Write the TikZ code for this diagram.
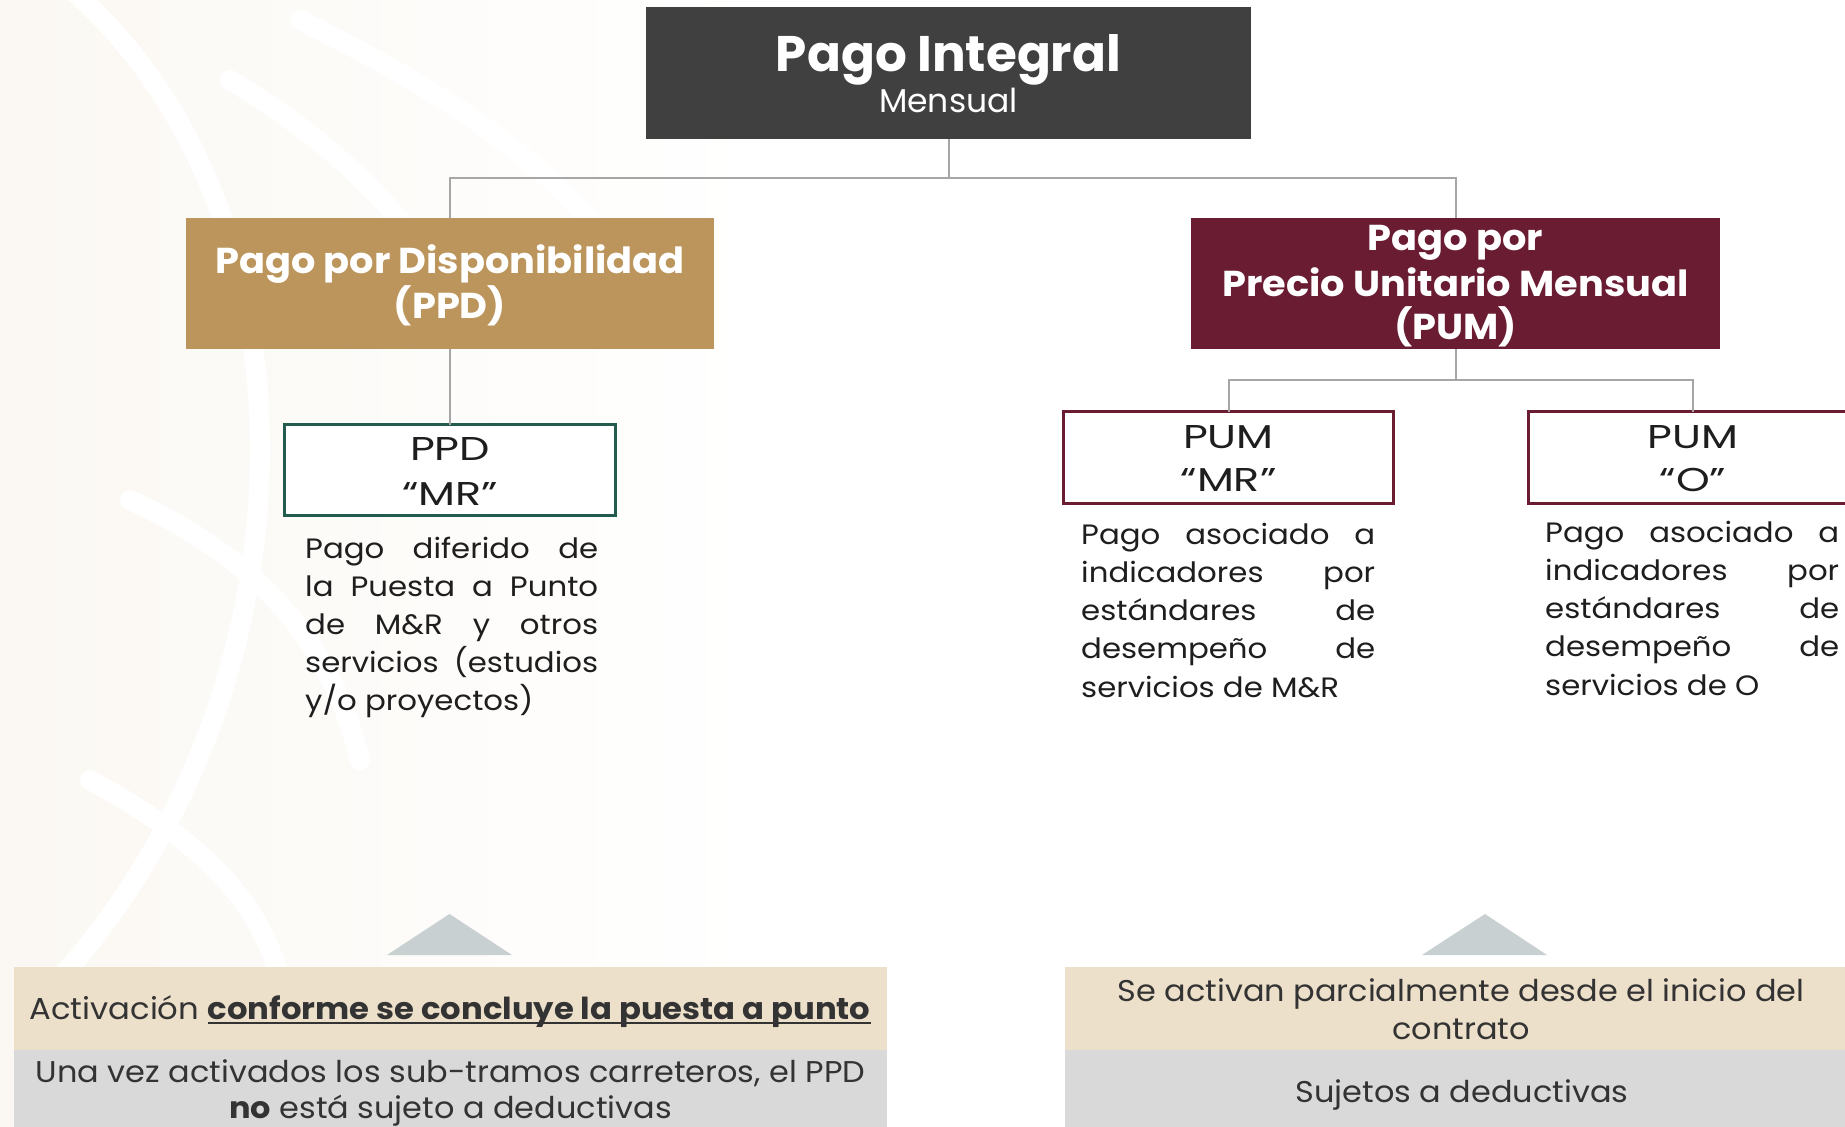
\documentclass[tikz,border=0pt]{standalone}
\usepackage{fontspec}
\setmainfont{Poppins}
\newfontfamily\wideA{Poppins}[FakeStretch=1.065]
\newfontfamily\wideB{Poppins}[FakeStretch=1.3]
\newfontfamily\wideC{Poppins}[FakeStretch=1.1]
\definecolor{topgray}{HTML}{404040}
\definecolor{ppdgold}{HTML}{BC955C}
\definecolor{pummaroon}{HTML}{691C32}
\definecolor{mrgreen}{HTML}{235B4E}
\definecolor{connc}{HTML}{A6A6A6}
\definecolor{tanband}{HTML}{EDE0CA}
\definecolor{grayband}{HTML}{D9D9D9}
\definecolor{trigray}{HTML}{C8D0D1}
\definecolor{inkc}{HTML}{1E1E1E}
\definecolor{botink}{HTML}{333333}
\definecolor{bgtint}{HTML}{FBF8F3}
\newsavebox\ulbox
\newcommand\myul[1]{\sbox\ulbox{#1}\rlap{\rule[-5pt]{\wd\ulbox}{2pt}}\usebox\ulbox}
\begin{document}
\begin{tikzpicture}[x=1pt,y=-1pt,
  boxn/.style={rectangle, inner sep=0pt, outer sep=0pt},
  txt/.style={inner sep=0pt, anchor=base},
  wtitle/.style={txt, text=white, font=\wideA\fontsize{36}{36}\selectfont\bfseries},
  subtxt/.style={txt, text=inkc, font=\wideB\fontsize{33}{33}\selectfont},
  desc/.style={inner sep=0pt, anchor=base west, text=inkc},
  bottxt/.style={txt, text=botink, font=\wideA\fontsize{30}{30}\selectfont},
  conn/.style={draw=connc, line width=2pt},
  tri/.style={fill=trigray},
  wmark/.style={draw=white, line width=20pt, line cap=round}]
\useasboundingbox (0,0) rectangle (1845,1127);
\clip (0,0) rectangle (1845,1127);
\fill[white] (0,0) rectangle (1845,1127);
% faint watermark tint
\shade[left color=bgtint, right color=white] (0,0) rectangle (760,1127);
\draw[wmark] (60,-20) .. controls (330,200) and (330,700) .. (40,1000);
\draw[wmark] (230,80) .. controls (330,140) and (420,220) .. (470,330);
\draw[wmark] (300,20) .. controls (420,80) and (520,140) .. (600,230);
\draw[wmark] (130,500) .. controls (260,560) and (330,640) .. (360,760);
\draw[wmark] (90,780) .. controls (200,840) and (260,900) .. (280,980);

% top
\node[boxn, fill=topgray, minimum width=605pt, minimum height=132pt] (top) at (948.5,73) {};
\node[txt, text=white, font=\fontsize{50}{50}\selectfont\bfseries] (topt) at (948.5,71.4) {Pago Integral};
\node[txt, text=white, font=\fontsize{33}{33}\selectfont] (tops) at (948.5,112.5) {Mensual};

% level 2
\node[boxn, fill=ppdgold, minimum width=528.5pt, minimum height=131pt] (ppd) at (450,283.5) {};
\node[wtitle] (ppdt1) at (450,273) {Pago por Disponibilidad};
\node[wtitle] (ppdt2) at (450,318) {(PPD)};

\node[boxn, fill=pummaroon, minimum width=529pt, minimum height=131pt] (pum) at (1455.5,283.5) {};
\node[wtitle] (pumt1) at (1455.5,250) {Pago por};
\node[wtitle] (pumt2) at (1455.5,296) {Precio Unitario Mensual};
\node[wtitle] (pumt3) at (1455.5,339) {(PUM)};

% level 3
\node[boxn, draw=mrgreen, line width=3pt, fill=white, minimum width=331pt, minimum height=91pt] (ppdmr) at (450,470) {};
\node[subtxt] (ppdmr1) at (450,460.7) {PPD};
\node[subtxt] (ppdmr2) at (450,505) {“MR”};

\node[boxn, draw=pummaroon, line width=3pt, fill=white, minimum width=330.5pt, minimum height=92pt] (pummr) at (1228.5,457.5) {};
\node[subtxt] (pummr1) at (1228.5,448) {PUM};
\node[subtxt] (pummr2) at (1228.5,491) {“MR”};

\node[boxn, draw=pummaroon, line width=3pt, fill=white, minimum width=330pt, minimum height=92pt] (pumo) at (1693,457.5) {};
\node[subtxt] (pumo1) at (1693,448) {PUM};
\node[subtxt] (pumo2) at (1693,491) {“O”};

% connectors
\coordinate (j1) at (948.5,178);
\coordinate (j2) at (1455.5,380);
\draw[conn] (top.south) -- (j1) -| (ppd.north);
\draw[conn] (j1) -| (pum.north);
\draw[conn] (ppd.south) -- (ppdmr.north);
\draw[conn] (pum.south) -- (j2) -| (pummr.north);
\draw[conn] (j2) -| (pumo.north);

% descriptions
\node[desc] (d1) at (305,558.5) {\vtop{\hsize=293pt\wideC\fontsize{28}{38}\selectfont\parindent=0pt\noindent
Pago diferido de\linebreak la Puesta a Punto\linebreak de M\&R y otros\linebreak servicios (estudios\linebreak y/o proyectos)}};
\node[desc] (d2) at (1081,544) {\vtop{\hsize=294pt\wideC\fontsize{28}{38.3}\selectfont\parindent=0pt\noindent
Pago asociado a\linebreak indicadores por\linebreak estándares de\linebreak desempeño de\linebreak servicios de M\&R}};
\node[desc] (d3) at (1545,542) {\vtop{\hsize=294pt\wideC\fontsize{28}{38.3}\selectfont\parindent=0pt\noindent
Pago asociado a\linebreak indicadores por\linebreak estándares de\linebreak desempeño de\linebreak servicios de O}};

% bottom left
\fill[tri] (387,955) -- (449.5,914) -- (512,955) -- cycle;
\node[boxn, fill=tanband, minimum width=873pt, minimum height=83pt] (bl1) at (450.5,1008.5) {};
\node[boxn, fill=grayband, minimum width=873pt, minimum height=80pt] (bl2) at (450.5,1090) {};
\node[bottxt, font=\wideA\fontsize{30.3}{30}\selectfont] (bl1t) at (450,1019) {Activación \myul{\textbf{conforme se concluye la puesta a punto}}};
\node[bottxt] (bl2t) at (450.5,1082.6) {Una vez activados los sub-tramos carreteros, el PPD};
\node[bottxt] (bl2u) at (450.5,1118.8) {\textbf{no} está sujeto a deductivas};

% bottom right
\fill[tri] (1422,955) -- (1485,914) -- (1547,955) -- cycle;
\node[boxn, fill=tanband, minimum width=795pt, minimum height=83pt] (br1) at (1462.5,1008.5) {};
\node[boxn, fill=grayband, minimum width=795pt, minimum height=80pt] (br2) at (1462.5,1090) {};
\node[bottxt] (br1t) at (1461,1001) {Se activan parcialmente desde el inicio del};
\node[bottxt] (br1u) at (1461,1039) {contrato};
\node[bottxt] (br2t) at (1462,1102.5) {Sujetos a deductivas};
\end{tikzpicture}
\end{document}
